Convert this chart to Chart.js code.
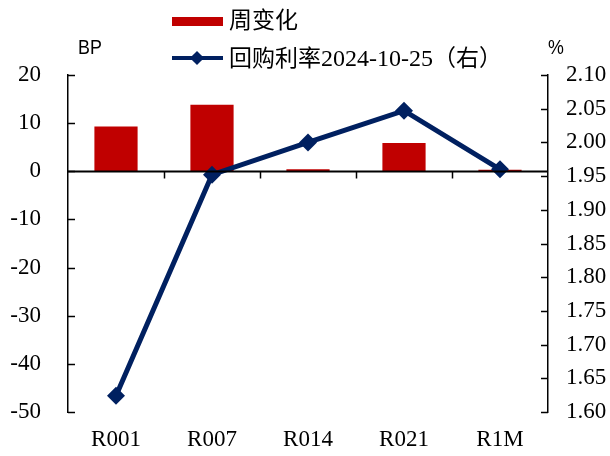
<!DOCTYPE html>
<html>
<head>
<meta charset="utf-8">
<script src="https://cdn.jsdelivr.net/npm/chart.js@4"></script>
<style>
  body { margin: 0; background: #fff; }
  #wrap { position: relative; width: 610px; height: 456px; }
  #chart { position: absolute; left: 0; top: 0; }
  .lbl { position: absolute; color: #000; white-space: nowrap; line-height: 1; }
  .unit { font-family: "Liberation Sans Narrow", "Liberation Sans", sans-serif; font-size: 21px;
          transform: scaleX(0.85); transform-origin: left center; }
  .leg { font-family: "Liberation Serif", "Noto Sans CJK SC", serif; font-size: 23px; }
  .leg .num { font-size: 24px; }
</style>
</head>
<body>
<div id="wrap">
  <canvas id="chart" width="610" height="456"></canvas>

  <!-- legend -->
  <div style="position:absolute;left:172px;top:17px;width:51px;height:9px;background:#C00000;"></div>
  <div class="lbl leg" style="left:229px;top:9px;">周变化</div>
  <div style="position:absolute;left:172px;top:56px;width:51px;height:4px;background:#002060;"></div>
  <div style="position:absolute;left:192px;top:53px;width:10px;height:10px;background:#002060;transform:rotate(45deg);"></div>
  <div class="lbl leg" style="left:229px;top:46px;">回购利率<span class="num">2024-10-25</span>（右）</div>

  <!-- axis units -->
  <div class="lbl unit" style="left:78px;top:36px;">BP</div>
  <div class="lbl unit" style="left:548px;top:36px;">%</div>
</div>

<script>
// --- data ---
const categories = ['R001', 'R007', 'R014', 'R021', 'R1M'];
const weeklyChange = [9.3, 13.8, 0.4, 5.9, 0.3];          // BP, left axis
const repoRate = [1.624, 1.952, 2.000, 2.047, 1.960];      // %, right axis
const leftTicks = { min: -50, max: 20, step: 10 };
const rightTicks = { min: 1.60, max: 2.10, step: 0.05 };

const serif = { family: '"Liberation Serif", "Times New Roman", serif', size: 23 };

// inside tick marks, zero line and category ticks
const axisDecor = {
    id: 'axisDecor',
    afterDatasetsDraw(chart) {
        const { ctx, chartArea: a, scales } = chart;
        ctx.save();
        ctx.strokeStyle = '#000';
        ctx.lineWidth = 1.5;

        // left ticks, pointing inward
        scales.y.ticks.forEach(t => {
            const py = Math.round(scales.y.getPixelForValue(t.value)) + 0.5;
            ctx.beginPath(); ctx.moveTo(a.left, py); ctx.lineTo(a.left + 7, py); ctx.stroke();
        });
        // right ticks, pointing inward
        scales.y1.ticks.forEach(t => {
            const py = Math.round(scales.y1.getPixelForValue(t.value)) + 0.5;
            ctx.beginPath(); ctx.moveTo(a.right - 7, py); ctx.lineTo(a.right, py); ctx.stroke();
        });

        // zero line
        const zy = Math.round(scales.y.getPixelForValue(0)) + 0.5;
        ctx.lineWidth = 2;
        ctx.beginPath(); ctx.moveTo(a.left, zy); ctx.lineTo(a.right, zy); ctx.stroke();

        // category boundary ticks below the zero line
        ctx.lineWidth = 1.5;
        for (let i = 1; i < categories.length; i++) {
            const px = Math.round((scales.x.getPixelForValue(i - 1) + scales.x.getPixelForValue(i)) / 2) + 0.5;
            ctx.beginPath(); ctx.moveTo(px, zy); ctx.lineTo(px, zy + 7); ctx.stroke();
        }
        ctx.restore();
    }
};

new Chart(document.getElementById('chart'), {
    data: {
        labels: categories,
        datasets: [
            {
                type: 'line',
                label: '回购利率2024-10-25（右）',
                data: repoRate,
                yAxisID: 'y1',
                borderColor: '#002060',
                backgroundColor: '#002060',
                borderWidth: 5,
                pointStyle: 'rectRot',
                pointRadius: 9,
                pointBorderWidth: 0,
                tension: 0,
                order: 0
            },
            {
                type: 'bar',
                label: '周变化',
                data: weeklyChange,
                yAxisID: 'y',
                backgroundColor: '#C00000',
                barPercentage: 0.45,
                categoryPercentage: 1,
                order: 1
            }
        ]
    },
    options: {
        responsive: false,
        animation: false,
        layout: { padding: { top: 75, left: 0, right: 0, bottom: 0 } },
        plugins: { legend: { display: false }, tooltip: { enabled: false } },
        scales: {
            x: {
                grid: { display: false, drawTicks: false },
                border: { display: false },
                ticks: { font: serif, color: '#000', padding: 14 },
                afterFit(s) { s.height = 44; }
            },
            y: {
                position: 'left',
                min: leftTicks.min,
                max: leftTicks.max,
                ticks: { stepSize: leftTicks.step, font: serif, color: '#000', padding: 27 },
                grid: { display: false, drawTicks: false },
                border: { display: true, color: '#000', width: 1.5 },
                afterFit(s) { s.width = 68; }
            },
            y1: {
                position: 'right',
                min: rightTicks.min,
                max: rightTicks.max,
                ticks: {
                    stepSize: rightTicks.step, font: serif, color: '#000', padding: 18,
                    callback: v => Number(v).toFixed(2)
                },
                grid: { display: false, drawTicks: false },
                border: { display: true, color: '#000', width: 1.5 },
                afterFit(s) { s.width = 62; }
            }
        }
    },
    plugins: [axisDecor]
});
</script>
</body>
</html>
